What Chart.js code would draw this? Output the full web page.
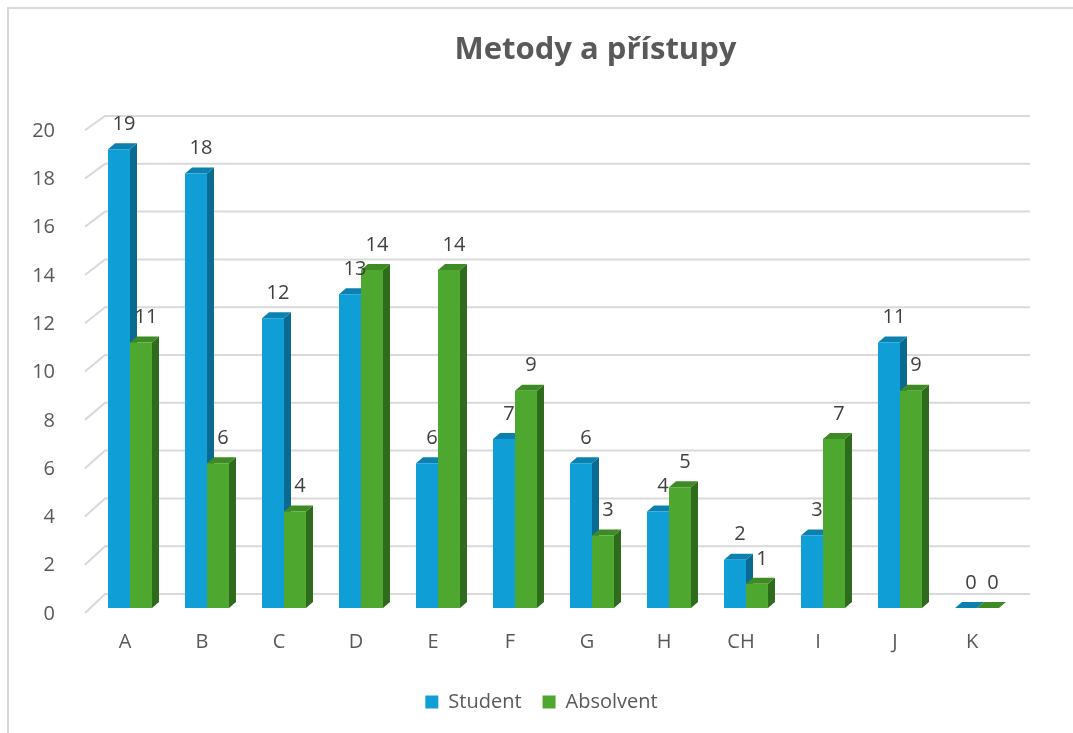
<!DOCTYPE html>
<html>
<head>
<meta charset="utf-8">
<script src="https://cdn.jsdelivr.net/npm/chart.js@4"></script>
<style>
  html, body { margin: 0; padding: 0; background: #fff; }
  #wrap { position: relative; width: 1073px; height: 733px; overflow: hidden; }
  #frame { position: absolute; left: 7px; top: 7px; right: -10px; bottom: -10px;
           border-left: 2px solid #d9d9d9; border-top: 2px solid #d9d9d9; }
  canvas { position: absolute; left: 0; top: 0; }
</style>
</head>
<body>
<div id="wrap">
  <div id="frame"></div>
  <canvas id="chart" width="1073" height="733"></canvas>
</div>
<script>
const categories = ['A', 'B', 'C', 'D', 'E', 'F', 'G', 'H', 'CH', 'I', 'J', 'K'];
const student = [19, 18, 12, 13, 6, 7, 6, 4, 2, 3, 11, 0];
const absolvent = [11, 6, 4, 14, 14, 9, 3, 5, 1, 7, 9, 0];
const yTicks = [0, 2, 4, 6, 8, 10, 12, 14, 16, 18, 20];

const FONT = '"Open Sans", "Liberation Sans", sans-serif';
const TEXT = '#595959';
const GRID = '#d9d9d9';

// depth of the fake 3d bars
const DX = 7, DY = -6;
const faces = [
  {top: '#0C80AE', side: '#0A6A91'},
  {top: '#3E8B25', side: '#2F6B1C'}
];

const walls = {
  id: 'walls',
  beforeDatasetsDraw(chart) {
    const ctx = chart.ctx;
    const y = chart.scales.y;
    const area = chart.chartArea;
    const backBottom = area.bottom - 14;
    ctx.save();
    ctx.strokeStyle = GRID;
    ctx.lineWidth = 2;
    yTicks.forEach(v => {
      const py = y.getPixelForValue(v);
      const back = backBottom - (area.bottom - py) * 0.99;
      const front = py + 5;
      ctx.beginPath();
      ctx.moveTo(area.left - 6.5, front);
      ctx.lineTo(area.left + 13.5, back);
      ctx.lineTo(area.right + 14.5, back);
      ctx.stroke();
    });
    ctx.restore();

    // top + side faces, front faces are drawn by chart.js afterwards
    const metas = [chart.getDatasetMeta(0), chart.getDatasetMeta(1)];
    for (let i = 0; i < categories.length; i++) {
      metas.forEach((meta, d) => {
        const bar = meta.data[i];
        const l = bar.x - bar.width / 2, r = bar.x + bar.width / 2;
        const t = bar.y, b = bar.base;
        ctx.fillStyle = faces[d].side;
        ctx.beginPath();
        ctx.moveTo(r, b); ctx.lineTo(r, t);
        ctx.lineTo(r + DX, t + DY); ctx.lineTo(r + DX, b + DY);
        ctx.closePath(); ctx.fill();
        ctx.fillStyle = faces[d].top;
        ctx.beginPath();
        ctx.moveTo(l, t); ctx.lineTo(r, t);
        ctx.lineTo(r + DX, t + DY); ctx.lineTo(l + DX, t + DY);
        ctx.closePath(); ctx.fill();
      });
    }
  },
  afterDatasetsDraw(chart) {
    const ctx = chart.ctx;
    ctx.save();
    ctx.font = '20px ' + FONT;
    ctx.fillStyle = '#404040';
    ctx.textAlign = 'center';
    ctx.textBaseline = 'middle';
    chart.data.datasets.forEach((ds, d) => {
      chart.getDatasetMeta(d).data.forEach((bar, i) => {
        ctx.fillText(String(ds.data[i]), bar.x + 5, bar.y - 25);
      });
    });
    ctx.restore();
  },
  afterLayout(chart) {
    // Excel puts the title and legend a bit right of centre
    chart.titleBlock.left += 72;
    chart.titleBlock.right += 72;
    chart.legend.left += 18;
    chart.legend.right += 18;
  }
};

new Chart(document.getElementById('chart'), {
  type: 'bar',
  data: {
    labels: categories,
    datasets: [
      {label: 'Student', data: student, backgroundColor: '#0F9ED5'},
      {label: 'Absolvent', data: absolvent, backgroundColor: '#4EA72E'}
    ]
  },
  options: {
    responsive: false,
    animation: false,
    devicePixelRatio: 1,
    categoryPercentage: 0.571,
    barPercentage: 1,
    layout: {padding: {left: 31.5, right: 57.5, top: 0, bottom: 11}},
    scales: {
      x: {
        grid: {display: false},
        border: {display: false},
        ticks: {font: {family: FONT, size: 20}, color: TEXT, padding: 14, labelOffset: -5},
        afterFit: s => { s.height = 63; }
      },
      y: {
        min: 0,
        max: 20,
        grid: {display: false},
        border: {display: false},
        ticks: {stepSize: 2, font: {family: FONT, size: 20}, color: TEXT, padding: 28.5, labelOffset: 6},
        afterFit: s => { s.width = 60; }
      }
    },
    plugins: {
      title: {
        display: true,
        text: 'Metody a přístupy',
        color: TEXT,
        font: {family: FONT, size: 31, weight: 'bold'},
        padding: {top: 32, bottom: 56}
      },
      legend: {
        position: 'bottom',
        labels: {
          font: {family: FONT, size: 20},
          color: TEXT,
          boxWidth: 13,
          boxHeight: 13,
          padding: 21
        }
      },
      tooltip: {enabled: false}
    }
  },
  plugins: [walls]
});
</script>
</body>
</html>
